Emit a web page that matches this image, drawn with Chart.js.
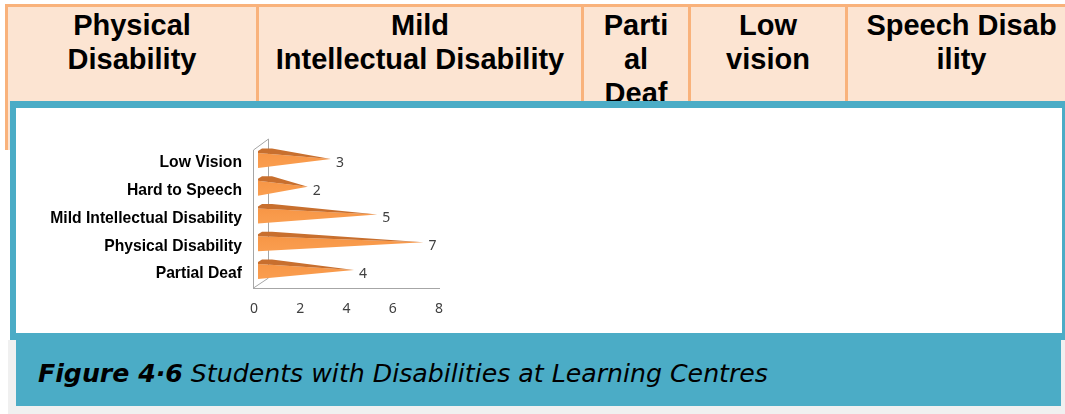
<!DOCTYPE html>
<html>
<head>
<meta charset="utf-8">
<script src="https://cdn.jsdelivr.net/npm/chart.js@4.4.1/dist/chart.umd.min.js"></script>
<style>
  html, body { margin:0; padding:0; background:#ffffff; }
  body { width:1065px; height:414px; overflow:hidden; position:relative; font-family:"Liberation Sans", Arial, sans-serif; }
  .hdrbg { position:absolute; left:5px; top:4px; width:1075px; height:146px; background:#FCE4D2; box-sizing:border-box; border-top:3px solid #F9B27B; border-left:3px solid #F9B27B; }
  .vdiv { position:absolute; top:4px; width:3px; height:146px; background:#F9B27B; }
  .hd { position:absolute; top:8px; text-align:center; font-weight:bold; font-size:29px; line-height:34px; color:#000; white-space:nowrap; }
  .box { position:absolute; left:10px; top:101px; width:1058px; height:239px; box-sizing:border-box; border-style:solid; border-color:#4BACC6; border-width:7px 6px 7px 6px; background:#fff; }
  .grey { position:absolute; left:8px; top:340px; width:1057px; height:74px; background:#F0F0F0; }
  .cap { position:absolute; left:16px; top:333px; width:1045px; height:73px; background:#4BACC6; }
  #capText { position:absolute; left:38px; top:361px; font-family:"DejaVu Sans Condensed","DejaVu Sans",sans-serif; font-size:24px; line-height:26px; color:#000; white-space:nowrap; transform-origin:0 0; font-style:italic; }
  #chartWrap { position:absolute; left:17px; top:108px; width:1045px; height:225px; }
</style>
</head>
<body>
<div class="hdrbg"></div>
<div class="vdiv" style="left:256px"></div>
<div class="vdiv" style="left:581px"></div>
<div class="vdiv" style="left:688px"></div>
<div class="vdiv" style="left:845px"></div>
<div class="hd" style="left:8px;width:248px">Physical<br>Disability</div>
<div class="hd" style="left:259px;width:322px">Mild<br>Intellectual Disability</div>
<div class="hd" style="left:584px;width:104px">Parti<br>al<br>Deaf</div>
<div class="hd" style="left:691px;width:154px">Low<br>vision</div>
<div class="hd" style="left:848px;width:227px">Speech Disab<br>ility</div>

<div class="box"></div>
<div class="grey"></div>
<div class="cap"></div>
<div id="capText"><b>Figure 4·6</b> Students with Disabilities at Learning Centres</div>

<div id="chartWrap"><canvas id="c" width="1045" height="225"></canvas></div>

<script>
const categories = ['Low Vision', 'Hard to Speech', 'Mild Intellectual Disability', 'Physical Disability', 'Partial Deaf'];
const students = [3, 2, 5, 7, 4];
const xTickMin = 0;
const xTickMax = 8;
const xTickStep = 2;

const cone3d = {
  id: 'cone3d',
  beforeDatasetsDraw(chart) {
    const ctx = chart.ctx, ca = chart.chartArea, xs = chart.scales.x;
    const x0 = xs.getPixelForValue(xTickMin);
    const x8 = xs.getPixelForValue(xTickMax);
    ctx.save();
    ctx.strokeStyle = '#A6A6A6';
    ctx.lineWidth = 1;
    ctx.beginPath();
    const fx = Math.round(x0) - 0.5, bx = Math.round(x0) + 14.5;
    ctx.moveTo(fx, ca.top + 1); ctx.lineTo(fx, ca.bottom);
    ctx.moveTo(fx, ca.top + 1); ctx.lineTo(bx, ca.top - 10);
    ctx.lineTo(bx, ca.bottom - 10);
    ctx.moveTo(fx, ca.bottom); ctx.lineTo(bx, ca.bottom - 10);
    ctx.moveTo(fx - 0.5, ca.bottom + 0.5); ctx.lineTo(x8 + 1, ca.bottom + 0.5);
    ctx.stroke();
    ctx.restore();
  },
  afterDatasetsDraw(chart) {
    const ctx = chart.ctx;
    const meta = chart.getDatasetMeta(0);
    const vals = chart.data.datasets[0].data;
    ctx.save();
    meta.data.forEach((el, i) => {
      const y = el.y;
      const xb = el.base + 4;
      const xt = el.x + 7.5;
      const g = ctx.createLinearGradient(0, y - 10, 0, y + 5);
      g.addColorStop(0, '#F79646');
      g.addColorStop(1, '#FA9E50');
      ctx.fillStyle = g;
      ctx.beginPath();
      ctx.moveTo(xb, y - 10);
      ctx.lineTo(xt, y - 4);
      ctx.lineTo(xb, y + 5);
      ctx.closePath();
      ctx.fill();
      ctx.fillStyle = '#C86F2E';
      ctx.beginPath();
      ctx.moveTo(xb, y - 10);
      ctx.lineTo(xb, y - 12);
      ctx.lineTo(xb + 4, y - 14.5);
      ctx.lineTo(xb + 14, y - 14.5);
      ctx.lineTo(xt, y - 4);
      ctx.closePath();
      ctx.fill();
      ctx.fillStyle = '#404040';
      ctx.font = '14px "Noto Sans", "Liberation Sans", sans-serif';
      ctx.textAlign = 'left';
      ctx.textBaseline = 'middle';
      ctx.fillText(String(vals[i]), xt + 5, y);
    });
    ctx.restore();
  }
};

new Chart(document.getElementById('c'), {
  type: 'bar',
  data: {
    labels: categories,
    datasets: [{
      data: students,
      backgroundColor: 'rgba(0,0,0,0)',
      borderWidth: 0,
      barPercentage: 0.7,
      categoryPercentage: 1
    }]
  },
  options: {
    indexAxis: 'y',
    responsive: false,
    animation: false,
    devicePixelRatio: 1,
    layout: { padding: { top: 41, right: 623, left: 0, bottom: 0 } },
    plugins: { legend: { display: false }, tooltip: { enabled: false }, title: { display: false } },
    scales: {
      x: {
        min: xTickMin, max: xTickMax,
        ticks: { stepSize: xTickStep, color: '#404040', padding: 13, font: { size: 14, family: '"Noto Sans", "Liberation Sans", sans-serif' } },
        grid: { display: false, drawTicks: false },
        border: { display: false },
        afterFit(scale) { scale.height = 45; }
      },
      y: {
        ticks: { color: '#000', padding: 12, font: { size: 15.7, weight: 'bold', family: '"Liberation Sans", Arial, sans-serif' } },
        grid: { display: false, drawTicks: false },
        border: { display: false },
        afterFit(scale) { scale.width = 237; }
      }
    }
  },
  plugins: [cone3d]
});

(function fitCaption() {
  const el = document.getElementById('capText');
  const w = el.getBoundingClientRect().width;
  if (w > 0) el.style.transform = 'scaleX(' + (730 / w) + ')';
})();
</script>
</body>
</html>
